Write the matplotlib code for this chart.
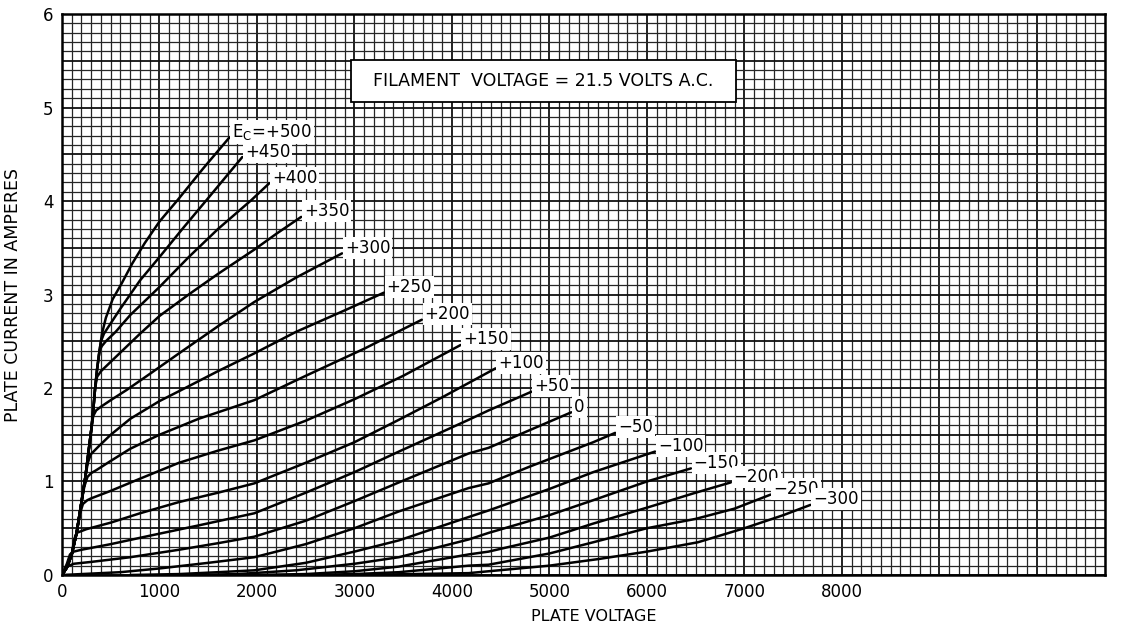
"""
Plate characteristics of a power triode drawn on graph paper.
Plate current vs plate voltage for grid voltages from +500 to -300 V.
"""
import matplotlib
matplotlib.use('Agg')  # Use non-interactive backend
import matplotlib.pyplot as plt
from matplotlib.patches import Rectangle
import numpy as np

# Grid voltage labels (one per curve)
grid_labels = ['+500', '+450', '+400', '+350', '+300', '+250', '+200', '+150',
               '+100', '+50', '0', '-50', '-100', '-150', '-200', '-250', '-300']

# Curve data: plate voltage (V), plate current (A)
env_v = [0, 50, 100, 150, 200, 240, 270, 300, 320, 340, 360, 385, 410]
env_a = [0, 0.08, 0.22, 0.45, 0.78, 1.05, 1.3, 1.55, 1.75, 2.0, 2.2, 2.4, 2.58]

v_p500 = env_v + [450, 520, 613, 720, 849, 1000, 1186, 1450, 1718]
a_p500 = env_a + [2.75, 2.95, 3.12, 3.33, 3.55, 3.78, 4.01, 4.35, 4.68]
v_p450 = env_v[:12] + [400, 430, 480, 600, 800, 1000, 1250, 1483, 1850]
a_p450 = env_a[:12] + [2.5, 2.58, 2.66, 2.85, 3.15, 3.4, 3.72, 4.01, 4.47]
v_p400 = env_v[:12] + [410, 450, 550, 700, 1000, 1300, 1600, 1943, 2127]
a_p400 = env_a[:12] + [2.45, 2.5, 2.6, 2.78, 3.08, 3.4, 3.7, 4.01, 4.19]
v_p350 = env_v[:10] + [360, 400, 450, 600, 800, 1000, 1300, 1600, 1973, 2200, 2454]
a_p350 = env_a[:10] + [2.12, 2.18, 2.23, 2.38, 2.58, 2.77, 3.0, 3.22, 3.48, 3.65, 3.83]
v_p300 = env_v[:8] + [320, 350, 400, 500, 665, 900, 1200, 1600, 1973, 2400, 2873]
a_p300 = env_a[:8] + [1.7, 1.76, 1.8, 1.87, 1.98, 2.15, 2.37, 2.66, 2.92, 3.18, 3.44]
v_p250 = env_v[:6] + [265, 295, 380, 500, 700, 1000, 1227, 1600, 1973, 2400, 2900, 3303]
a_p250 = env_a[:6] + [1.2, 1.29, 1.38, 1.5, 1.67, 1.86, 1.98, 2.18, 2.37, 2.6, 2.83, 3.02]
v_p200 = env_v[:4] + [200, 230, 262, 300, 350, 500, 700, 1000, 1400, 1973, 2500, 3100, 3691]
a_p200 = env_a[:4] + [0.78, 0.95, 1.05, 1.09, 1.12, 1.22, 1.35, 1.5, 1.67, 1.87, 2.13, 2.42, 2.73]
v_p150 = env_v[:4] + [185, 215, 260, 300, 500, 800, 1200, 1600, 1973, 2500, 3000, 3500, 4090]
a_p150 = env_a[:4] + [0.66, 0.76, 0.8, 0.82, 0.9, 1.03, 1.2, 1.33, 1.44, 1.65, 1.88, 2.13, 2.46]
v_p100 = [0, 50, 100, 125, 150, 250, 500, 800, 1200, 1600, 1973, 2500, 3000, 3456, 3900, 4448]
a_p100 = [0, 0.08, 0.22, 0.38, 0.45, 0.49, 0.56, 0.66, 0.78, 0.88, 0.98, 1.2, 1.42, 1.66, 1.9, 2.21]
v_p50 = [0, 50, 82, 120, 200, 500, 900, 1400, 1973, 2500, 3000, 3456, 4172, 4376, 4816]
a_p50 = [0, 0.12, 0.22, 0.25, 0.27, 0.33, 0.42, 0.53, 0.66, 0.88, 1.1, 1.32, 1.66, 1.76, 1.96]
v_0 = [0, 51, 120, 300, 700, 1200, 1600, 1973, 2500, 3000, 3456, 4172, 4376, 4800, 5225]
a_0 = [0, 0.09, 0.12, 0.14, 0.19, 0.27, 0.34, 0.41, 0.58, 0.79, 0.99, 1.3, 1.36, 1.55, 1.74]
v_m50 = [0, 600, 1000, 1500, 1973, 2500, 3000, 3456, 4172, 4376, 4800, 5200, 5450, 5675]
a_m50 = [0, 0.03, 0.07, 0.13, 0.19, 0.33, 0.5, 0.68, 0.93, 0.98, 1.16, 1.32, 1.42, 1.52]
v_m100 = [700, 1200, 1600, 1973, 2500, 3000, 3456, 4172, 4376, 5000, 5450, 6084]
a_m100 = [0, 0.01, 0.03, 0.05, 0.13, 0.25, 0.37, 0.62, 0.69, 0.92, 1.1, 1.32]
v_m150 = [1300, 1800, 2400, 3000, 3456, 4172, 4376, 5000, 5450, 6000, 6452]
a_m150 = [0, 0.01, 0.05, 0.12, 0.19, 0.38, 0.45, 0.64, 0.8, 1.0, 1.14]
v_m200 = [1900, 2500, 3000, 3456, 4172, 4376, 5000, 5450, 6000, 6500, 6861]
a_m200 = [0, 0.01, 0.04, 0.09, 0.22, 0.25, 0.4, 0.55, 0.72, 0.88, 0.99]
v_m250 = [2500, 3000, 3456, 4172, 4376, 5000, 5450, 6000, 6500, 6900, 7270]
a_m250 = [0, 0.01, 0.03, 0.1, 0.11, 0.23, 0.35, 0.5, 0.6, 0.71, 0.86]
v_m300 = [3000, 3600, 4172, 4480, 5000, 5500, 6000, 6524, 7000, 7400, 7679]
a_m300 = [0, 0.01, 0.02, 0.05, 0.1, 0.17, 0.25, 0.35, 0.5, 0.64, 0.75]

curves_v = [v_p500, v_p450, v_p400, v_p350, v_p300, v_p250, v_p200, v_p150,
            v_p100, v_p50, v_0, v_m50, v_m100, v_m150, v_m200, v_m250, v_m300]
curves_a = [a_p500, a_p450, a_p400, a_p350, a_p300, a_p250, a_p200, a_p150,
            a_p100, a_p50, a_0, a_m50, a_m100, a_m150, a_m200, a_m250, a_m300]

x_ticks = [0, 1000, 2000, 3000, 4000, 5000, 6000, 7000, 8000]
y_ticks = [0, 1, 2, 3, 4, 5, 6]
X_MAX = 10700
Y_MAX = 6

fig = plt.figure(figsize=(11.25, 6.28), dpi=100)
ax = fig.add_axes([0.0551, 0.0844, 0.9271, 0.8933])
ax.set_xlim(0, X_MAX)
ax.set_ylim(0, Y_MAX)

# Graph paper: fine lines every 100 V / 0.1 A, heavier every 1000 V / 0.5 A
for x in np.arange(0, X_MAX + 1, 100):
    heavy = x % 1000 == 0
    ax.axvline(x, color='#101010' if heavy else '#262626',
               lw=1.3 if heavy else 0.9, zorder=1)
for y in np.arange(0, Y_MAX + 0.001, 0.1):
    heavy = abs(y * 2 - round(y * 2)) < 1e-6
    ax.axhline(y, color='#101010' if heavy else '#262626',
               lw=1.3 if heavy else 0.9, zorder=1)

# Characteristic curves with their grid voltage labels
for i, (v, a) in enumerate(zip(curves_v, curves_a)):
    ax.plot(v, a, color='black', lw=1.8, solid_capstyle='round',
            solid_joinstyle='round', zorder=3)
    text = grid_labels[i]
    if i == 0:
        text = r'E$_{\mathrm{C}}$=' + text
    ax.annotate(text.replace('-', '\u2212'), xy=(v[-1], a[-1]), xytext=(2, 4),
                textcoords='offset points', ha='left', va='center',
                fontsize=12, zorder=5,
                bbox=dict(boxstyle='square,pad=0.12', fc='white', ec='none'))

# Filament voltage note
ax.add_patch(Rectangle((2960, 5.06), 3950, 0.45, facecolor='white',
                       edgecolor='black', lw=1.3, zorder=4))
ax.text(4935, 5.285, 'FILAMENT  VOLTAGE = 21.5 VOLTS A.C.', ha='center',
        va='center', fontsize=12.5, zorder=5)

ax.set_xticks(x_ticks)
ax.set_xticklabels([str(t) for t in x_ticks])
ax.set_yticks(y_ticks)
ax.set_yticklabels([str(t) for t in y_ticks])
ax.tick_params(length=0, labelsize=12, pad=6)
for spine in ax.spines.values():
    spine.set_linewidth(1.8)
    spine.set_zorder(6)

ax.set_xlabel('PLATE VOLTAGE', fontsize=11.5, labelpad=8)
ax.xaxis.set_label_coords(0.51, -0.06)
ax.set_ylabel('PLATE CURRENT IN AMPERES', fontsize=12.5)
ax.yaxis.set_label_coords(-0.038, 0.5)

plt.savefig('out.png', dpi=100)
plt.close()
